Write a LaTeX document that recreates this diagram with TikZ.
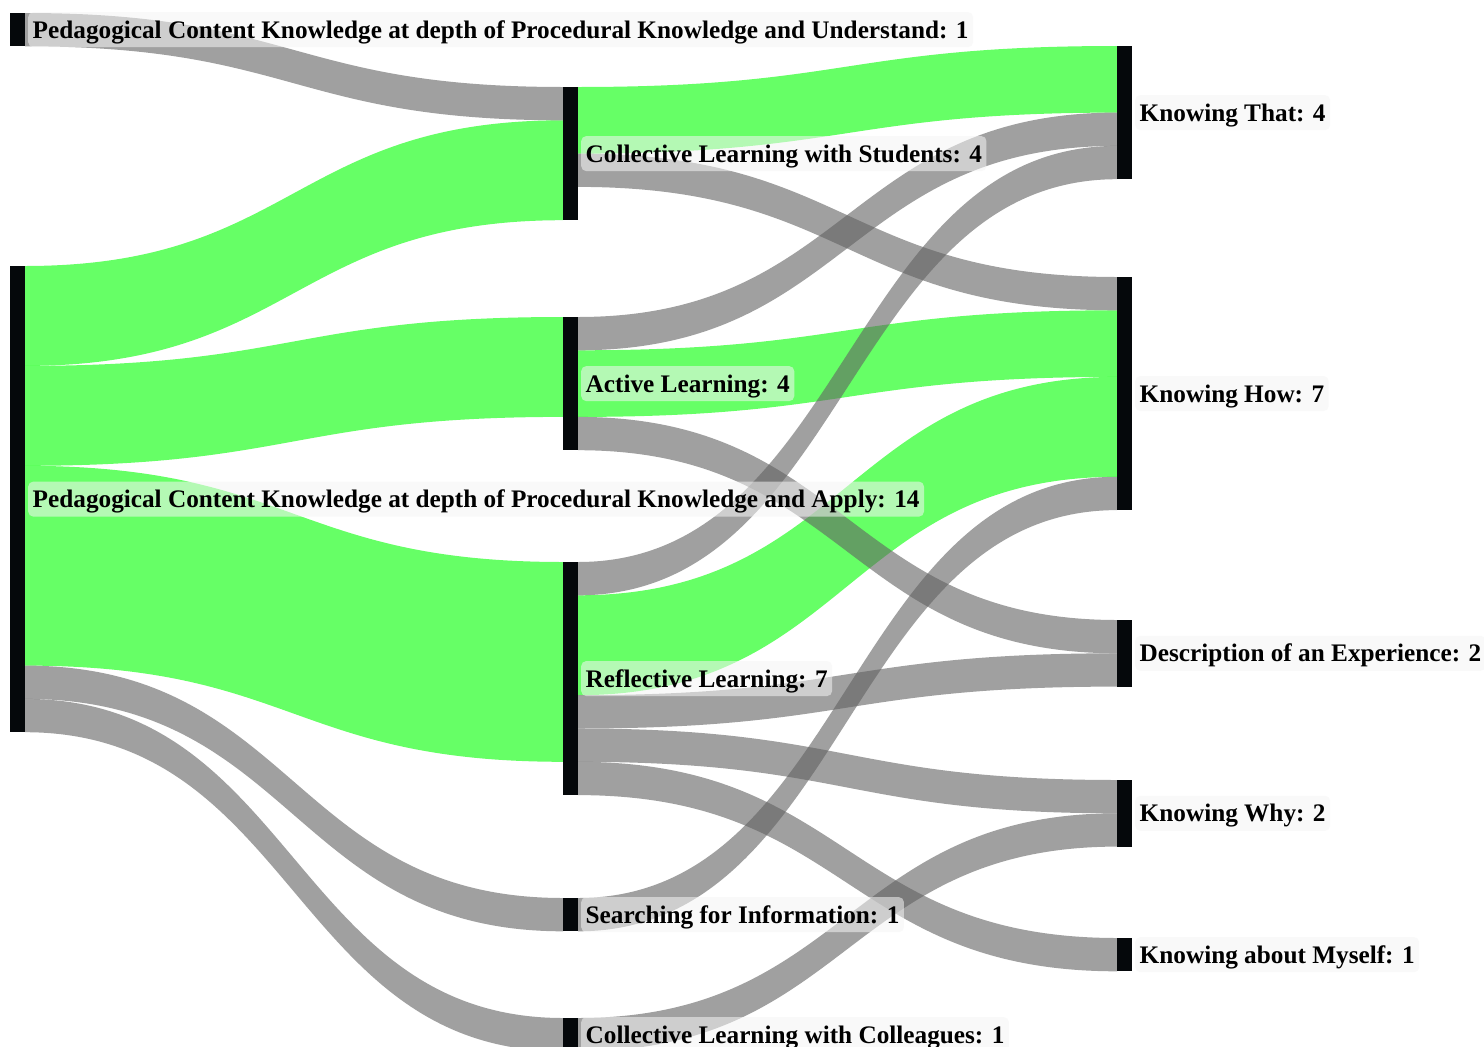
\documentclass[tikz,border=0pt]{standalone}
\usepackage{fontspec}
\setmainfont{Liberation Serif}
\usetikzlibrary{calc,backgrounds}
\definecolor{linkgreen}{RGB}{0,255,0}
\definecolor{linkgray}{RGB}{97,97,97}
\definecolor{barc}{RGB}{5,8,11}
\def\uu{33.3}
\tikzset{
  bar/.style={fill=barc, draw=none, rectangle, inner sep=0pt, outer sep=0pt, minimum width=15pt, anchor=north west},
  gl/.style={fill=linkgreen, fill opacity=0.6},
  gr/.style={fill=linkgray, fill opacity=0.6},
  lbl/.style={anchor=west, xshift=3pt, fill=white!96!black, fill opacity=0.55, text opacity=1,
    rounded corners=5pt, inner xsep=4.5pt, inner ysep=9pt, text height=17pt, text depth=0pt,
    font=\fontsize{25.25}{30}\selectfont\bfseries}
}
% link: #1 source node, #2 source offset (units), #3 target node, #4 target offset, #5 value, #6 style
\newcommand\sklink[6]{%
  \path ($(#1.north east)+(0,#2*\uu)$) coordinate (s0)
        ($(#3.north west)+(0,#4*\uu)$) coordinate (t0)
        ($(s0)+(0,#5*\uu)$) coordinate (s1)
        ($(t0)+(0,#5*\uu)$) coordinate (t1)
        ($(s0)!.5!(t0)$) coordinate (m0)
        ($(s1)!.5!(t1)$) coordinate (m1);
  \fill[#6] (s0) .. controls (m0 |- s0) and (m0 |- t0) .. (t0) -- (t1)
        .. controls (m1 |- t1) and (m1 |- s1) .. (s1) -- cycle;}
\begin{document}
\begin{tikzpicture}[x=1pt,y=-1pt]
\useasboundingbox (0,0) rectangle (1484,1047);
% nodes (bars)
\node[bar, minimum height=33.3pt]  (pcku) at (10,13) {};
\node[bar, minimum height=466.2pt] (pcka) at (10,266) {};
\node[bar, minimum height=133.2pt] (cls)  at (563,87) {};
\node[bar, minimum height=133.2pt] (al)   at (563,317) {};
\node[bar, minimum height=233.1pt] (rl)   at (563,562) {};
\node[bar, minimum height=33.3pt]  (sfi)  at (563,898) {};
\node[bar, minimum height=33.3pt]  (clc)  at (563,1018) {};
\node[bar, minimum height=133.2pt] (kt)   at (1117,46) {};
\node[bar, minimum height=233.1pt] (kh)   at (1117,277) {};
\node[bar, minimum height=66.6pt]  (de)   at (1117,620) {};
\node[bar, minimum height=66.6pt]  (kw)   at (1117,780) {};
\node[bar, minimum height=33.3pt]  (kam)  at (1117,938) {};
% links
\begin{scope}[on background layer]
  \fill[white] (0,0) rectangle (1484,1047);
  \sklink{pcka}{0}{cls}{1}{3}{gl}
  \sklink{pcka}{3}{al}{0}{3}{gl}
  \sklink{pcka}{6}{rl}{0}{6}{gl}
  \sklink{cls}{0}{kt}{0}{2}{gl}
  \sklink{al}{1}{kh}{1}{2}{gl}
  \sklink{rl}{1}{kh}{3}{3}{gl}
  \sklink{pcku}{0}{cls}{0}{1}{gr}
  \sklink{pcka}{12}{sfi}{0}{1}{gr}
  \sklink{pcka}{13}{clc}{0}{1}{gr}
  \sklink{cls}{2}{kh}{0}{1}{gr}
  \sklink{al}{0}{kt}{2}{1}{gr}
  \sklink{al}{3}{de}{0}{1}{gr}
  \sklink{rl}{0}{kt}{3}{1}{gr}
  \sklink{rl}{4}{de}{1}{1}{gr}
  \sklink{rl}{5}{kw}{0}{1}{gr}
  \sklink{rl}{6}{kam}{0}{1}{gr}
  \sklink{sfi}{0}{kh}{6}{1}{gr}
  \sklink{clc}{0}{kw}{1}{1}{gr}
\end{scope}
% labels
\node[lbl] (pckul) at (pcku.east) {Pedagogical Content Knowledge at depth of Procedural Knowledge and Understand: 1};
\node[lbl] (pckal) at (pcka.east) {Pedagogical Content Knowledge at depth of Procedural Knowledge and Apply: 14};
\node[lbl] (clsl) at (cls.east) {Collective Learning with Students: 4};
\node[lbl] (all) at (al.east) {Active Learning: 4};
\node[lbl] (rll) at (rl.east) {Reflective Learning: 7};
\node[lbl] (sfil) at (sfi.east) {Searching for Information: 1};
\node[lbl] (clcl) at (clc.east) {Collective Learning with Colleagues: 1};
\node[lbl] (ktl) at (kt.east) {Knowing That: 4};
\node[lbl] (khl) at (kh.east) {Knowing How: 7};
\node[lbl] (del) at (de.east) {Description of an Experience: 2};
\node[lbl] (kwl) at (kw.east) {Knowing Why: 2};
\node[lbl] (kaml) at (kam.east) {Knowing about Myself: 1};
\end{tikzpicture}
\end{document}
